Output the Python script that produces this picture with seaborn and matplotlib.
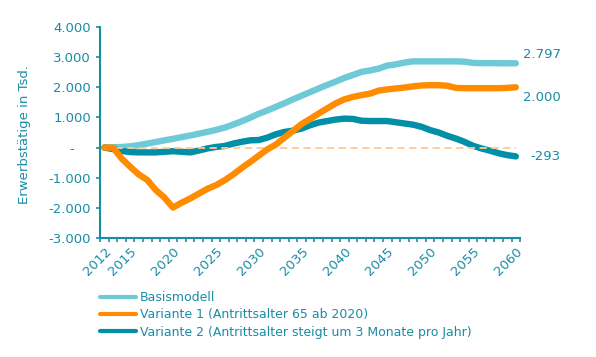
import numpy as np
import pandas as pd
import seaborn as sns
import matplotlib
matplotlib.use("Agg")
import matplotlib.pyplot as plt
from matplotlib.ticker import FixedLocator, FuncFormatter

# Daten (Erwerbstätige, Abweichung in Tsd.)
years = list(range(2012, 2061))
basismodell = [0, 10, 20, 40, 80, 130, 185, 240, 290, 345,
               400, 460, 520, 585, 660, 760, 870, 990, 1120, 1230,
               1350, 1470, 1600, 1720, 1840, 1960, 2080, 2190, 2310, 2410,
               2510, 2560, 2620, 2720, 2760, 2820, 2860, 2860, 2860, 2860,
               2860, 2860, 2850, 2810, 2800, 2800, 2797, 2797, 2797]
variante1 = [0, 0, -360, -635, -890, -1075, -1410, -1660, -1990, -1830,
             -1690, -1530, -1370, -1250, -1090, -900, -680, -480, -270, -60,
             100, 330, 550, 780, 950, 1130, 1300, 1470, 1600, 1680,
             1740, 1790, 1890, 1930, 1960, 1990, 2030, 2060, 2070, 2070,
             2050, 1980, 1970, 1970, 1970, 1970, 1970, 1980, 2000]
variante2 = [0, -50, -110, -150, -160, -160, -160, -140, -120, -140,
             -160, -100, -30, 20, 50, 130, 190, 240, 250, 330,
             440, 520, 560, 630, 740, 830, 880, 930, 960, 950,
             890, 880, 880, 880, 840, 800, 760, 690, 580, 500,
             390, 300, 190, 60, -30, -105, -190, -250, -293]
labels = ["Basismodell",
          "Variante 1 (Antrittsalter 65 ab 2020)",
          "Variante 2 (Antrittsalter steigt um 3 Monate pro Jahr)"]
end_labels = ["2.797", "2.000", "-293"]
year_ticks = [2012, 2015, 2020, 2025, 2030, 2035, 2040, 2045, 2050, 2055, 2060]

TEAL_TXT = "#1a8ca6"
colors = ["#6ecad6", "#ff8c00", "#008fa6"]

sns.set_style("white")
plt.rcParams['font.family'] = ['DejaVu Sans']

df = pd.DataFrame({"Jahr": years, labels[0]: basismodell,
                   labels[1]: variante1, labels[2]: variante2})

fig = plt.figure(figsize=(5.96, 3.57), dpi=100)
ax = fig.add_axes([0.168, 0.3333, 0.7047, 0.5911])

zorders = [2, 5, 3]
for lab, col, z in zip(labels, colors, zorders):
    sns.lineplot(data=df, x="Jahr", y=lab, color=col, lw=4.6, ax=ax,
                 label=lab, zorder=z, solid_capstyle="round")

# gestrichelte Nulllinie
ax.hlines(0, years[0], years[-1], colors="#ffc98f", linestyles=(0, (4, 2.5)),
          lw=1.3, zorder=4)

ax.set_xlim(2011.5, 2060.5)
ax.set_ylim(-3000, 4000)
ax.set_yticks(np.arange(-3000, 4001, 1000))


def fmt_y(v, pos):
    if v == 0:
        return "-\u2007\u2007"
    return f"{int(v):,}".replace(",", ".")


ax.yaxis.set_major_formatter(FuncFormatter(fmt_y))
ax.set_xticks(year_ticks)
ax.set_xticklabels([str(y) for y in year_ticks], rotation=45, ha="right",
                   va="top", rotation_mode="anchor")
ax.xaxis.set_minor_locator(FixedLocator(np.arange(2011.5, 2061, 1.0)))
ax.tick_params(axis="x", which="major", length=0, pad=5, labelsize=9.5,
               labelcolor=TEAL_TXT)
ax.tick_params(axis="x", which="minor", length=3, width=1.2, color=TEAL_TXT,
               direction="out", bottom=True)
ax.tick_params(axis="y", length=3, width=1.2, color=TEAL_TXT, pad=3.5,
               labelsize=9.5, labelcolor=TEAL_TXT, left=True)

sns.despine(ax=ax)
for s in ["left", "bottom"]:
    ax.spines[s].set_color(TEAL_TXT)
    ax.spines[s].set_linewidth(1.5)

ax.set_xlabel("")
ax.set_ylabel("Erwerbstätige in Tsd.", color=TEAL_TXT, fontsize=9.5)
ax.yaxis.set_label_coords(-0.165, 0.49)

# Endwerte rechts
offsets = [6, -7, 0]
for vals, txt, dy in zip([basismodell, variante1, variante2], end_labels, offsets):
    ax.annotate(txt, xy=(years[-1], vals[-1]), xytext=(32.5, dy),
                textcoords="offset points", ha="right", va="center",
                fontsize=9.5, color=TEAL_TXT, annotation_clip=False)

ax.get_legend().remove()
handles, labs = ax.get_legend_handles_labels()
leg = fig.legend(handles, labs, loc="upper left", bbox_to_anchor=(0.168, 0.185),
                 frameon=False, fontsize=9, handlelength=2.9, handletextpad=0.25,
                 labelspacing=0.35, borderpad=0, borderaxespad=0,
                 labelcolor=TEAL_TXT)
for h in leg.get_lines():
    h.set_linewidth(3)

fig.savefig("out.png", dpi=100)
